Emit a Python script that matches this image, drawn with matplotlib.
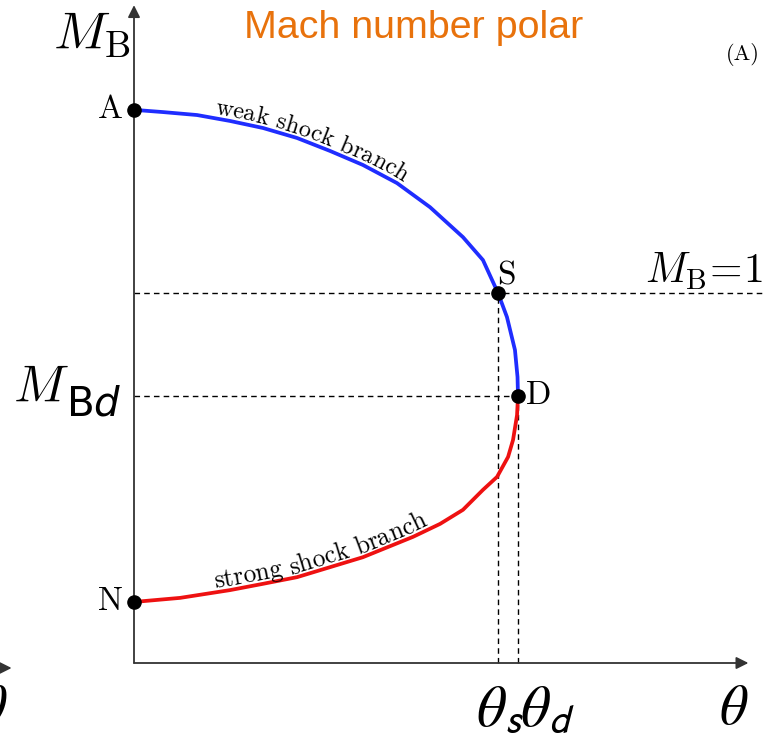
import numpy as np
import matplotlib
matplotlib.use("Agg")
import matplotlib.pyplot as plt

# Mach number polar: deflection angle theta (deg) vs downstream Mach number M_B
weak_theta = [0.0, 1.81, 3.94, 6.0, 8.06, 10.19, 12.25, 14.31, 16.44, 18.5,
              20.56, 21.81, 22.75, 23.31, 23.81, 23.97, 24.0]
weak_M = [1.495, 1.489, 1.481, 1.465, 1.446, 1.419, 1.384, 1.346, 1.297, 1.232,
          1.151, 1.089, 1.0, 0.935, 0.846, 0.773, 0.722]
strong_theta = [24.0, 23.94, 23.69, 23.38, 22.69, 21.81, 20.56, 19.13, 17.44,
                14.31, 12.25, 10.19, 8.06, 6.0, 2.88, 0.0]
strong_M = [0.722, 0.670, 0.603, 0.557, 0.503, 0.468, 0.414, 0.376, 0.341,
            0.286, 0.259, 0.232, 0.214, 0.197, 0.176, 0.165]

theta_s = 22.75   # sonic point S
theta_d = 24.0    # detachment point D
M_sonic = 1.0
M_Bd = 0.722

point_names = ["A", "S", "D", "N"]

fig = plt.figure(figsize=(7.64, 7.39), dpi=100)
ax = fig.add_axes([0, 0, 1, 1])
ax.set_xlim(-8.375, 39.375)
ax.set_ylim(-0.2054, 1.7919)
ax.axis("off")

axcol = "#333333"
arrow = dict(arrowstyle="-|>", color=axcol, lw=1.3, mutation_scale=18, shrinkA=0, shrinkB=0)
ax.annotate("", xy=(38.4, 0), xytext=(0, 0), arrowprops=arrow)
ax.annotate("", xy=(0, 1.778), xytext=(0, 0), arrowprops=arrow)
# axis of the neighbouring panel, cut by the figure edge
ax.annotate("", xy=(-7.65, -0.0135), xytext=(-12, -0.0135), arrowprops=arrow,
            annotation_clip=False)
ax.text(-8.8, -0.125, r"$\theta$", fontsize=40, math_fontfamily="stix",
        ha="center", va="center", clip_on=False)

# guide lines
dash = dict(color="black", lw=1.0, ls=(0, (4, 3)))
ax.plot([0, 39.4], [M_sonic, M_sonic], **dash)
ax.plot([0, theta_d], [M_Bd, M_Bd], **dash)
ax.plot([theta_s, theta_s], [0, M_sonic], **dash)
ax.plot([theta_d, theta_d], [0, M_Bd], **dash)

# the two branches
ax.plot(weak_theta, weak_M, color="#1f2dff", lw=2.7, solid_joinstyle="round", zorder=3)
ax.plot(strong_theta, strong_M, color="#ee1111", lw=2.7, solid_joinstyle="round", zorder=3)

pts = {
    "A": (weak_theta[0], weak_M[0]),
    "S": (theta_s, M_sonic),
    "D": (theta_d, M_Bd),
    "N": (strong_theta[-1], strong_M[-1]),
}
for name in point_names:
    x, y = pts[name]
    ax.plot(x, y, "o", color="black", ms=9.5, zorder=5)

lab = dict(fontsize=24, fontfamily="cmr10")
ax.text(-0.7, pts["A"][1], "A", ha="right", va="center", **lab)
ax.text(theta_s - 0.05, M_sonic + 0.008, "S", ha="left", va="bottom", **lab)
ax.text(theta_d + 0.5, M_Bd, "D", ha="left", va="center", **lab)
ax.text(-0.7, pts["N"][1], "N", ha="right", va="center", **lab)


def text_along(xs, ys, s, start, offset, size):
    """Place the characters of s one by one along a polyline (display coords)."""
    renderer = fig.canvas.get_renderer()
    prop = matplotlib.font_manager.FontProperties(family="cmr10", size=size)
    p = ax.transData.transform(np.column_stack([xs, ys]))
    seg = np.hypot(np.diff(p[:, 0]), np.diff(p[:, 1]))
    arc = np.concatenate([[0], np.cumsum(seg)])
    inv = ax.transData.inverted()
    for i, ch in enumerate(s):
        w0 = renderer.get_text_width_height_descent(s[:i], prop, ismath=False)[0] if i else 0
        w1 = renderer.get_text_width_height_descent(s[:i + 1], prop, ismath=False)[0]
        c = start + (w0 + w1) / 2
        cx, cy = np.interp(c, arc, p[:, 0]), np.interp(c, arc, p[:, 1])
        pa = np.interp(c - 12, arc, p[:, 0]), np.interp(c - 12, arc, p[:, 1])
        pb = np.interp(c + 12, arc, p[:, 0]), np.interp(c + 12, arc, p[:, 1])
        d = np.array([pb[0] - pa[0], pb[1] - pa[1]])
        d /= np.hypot(*d)
        n = np.array([-d[1], d[0]])
        x, y = inv.transform((cx + n[0] * offset, cy + n[1] * offset))
        ang = np.degrees(np.arctan2(d[1], d[0]))
        if ch.strip():
            ax.text(x, y, ch, fontproperties=prop, ha="center", va="baseline",
                    rotation=ang, rotation_mode="anchor")


text_along(weak_theta, weak_M, "weak shock branch", 80, 4, 17.5)
text_along(strong_theta[::-1], strong_M[::-1], "strong shock branch", 82, 4, 18.3)

# axis labels
ax.text(-0.2, 1.70, r"$M_\mathrm{B}$", fontsize=38, math_fontfamily="cm",
        ha="right", va="center")
ax.text(-4.05, 0.743, r"$M$", fontsize=37, math_fontfamily="cm", ha="right", va="center")
ax.text(-4.25, 0.70, r"$\mathsf{B}d$", fontsize=29, math_fontfamily="dejavusans",
        ha="left", va="center")
ax.text(39.3, 1.06, r"$M_\mathrm{B}\!=\!1$", fontsize=30, math_fontfamily="cm",
        ha="right", va="center")
ax.text(theta_s - 1.4, -0.125, r"$\theta_{\mathsf{s}}$", fontsize=42, math_fontfamily="stix",
        ha="left", va="center")
ax.text(theta_d + 0.15, -0.125, r"$\theta_{\mathsf{d}}$", fontsize=42, math_fontfamily="stix",
        ha="left", va="center")
ax.text(37.5, -0.125, r"$\theta$", fontsize=40, math_fontfamily="stix",
        ha="center", va="center")

ax.text(0.541, 0.962, "Mach number polar", transform=fig.transFigure, fontsize=28.4,
        fontfamily="Liberation Sans", color="#e8720c", ha="center", va="center")
ax.text(0.972, 0.926, "(A)", transform=fig.transFigure, fontsize=16,
        fontfamily="cmr10", ha="center", va="center")

fig.savefig("out.png", dpi=100)
